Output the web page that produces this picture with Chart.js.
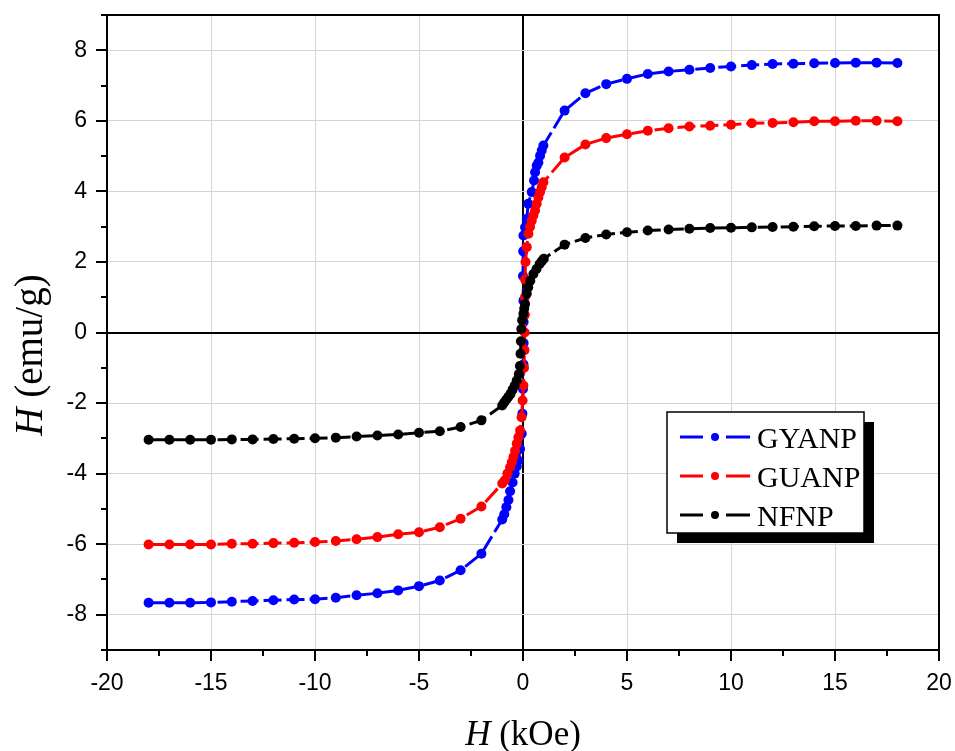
<!DOCTYPE html>
<html>
<head>
<meta charset="utf-8">
<script src="https://cdn.jsdelivr.net/npm/chart.js@4.4.0/dist/chart.umd.min.js"></script>
<style>
  html, body { margin: 0; padding: 0; background: #fff; }
  #wrap { width: 955px; height: 751px; }
</style>
</head>
<body>
<div id="wrap"><canvas id="loopChart"></canvas></div>
<script>
// field steps (kOe) on the saturated branches
const fieldNeg = [-18, -17, -16, -15, -14, -13, -12, -11, -10, -9, -8, -7, -6, -5, -4, -3, -2];
const fieldPos = [2, 3, 4, 5, 6, 7, 8, 9, 10, 11, 12, 13, 14, 15, 16, 17, 18];

// GYANP
const gyanpNeg = [-7.66, -7.66, -7.66, -7.65, -7.63, -7.61, -7.59, -7.57, -7.56, -7.52, -7.45, -7.39, -7.31, -7.19, -7.03, -6.74, -6.27];
const gyanpCoreH = [-1.0, -0.9, -0.8, -0.7, -0.62, -0.5, -0.4, -0.3, -0.22, -0.14, -0.06, -0.03, 0, 0.02, 0.03, 0.03, 0.02, 0, 0.01, 0.02, 0.1, 0.18, 0.25, 0.42, 0.53, 0.58, 0.66, 0.74, 0.82, 0.9, 0.98];
const gyanpCoreM = [-5.3, -5.15, -4.95, -4.75, -4.5, -4.25, -4.0, -3.8, -3.63, -3.3, -2.87, -2.3, -1.6, -0.9, -0.3, 0.3, 0.9, 1.6, 2.3, 2.75, 2.98, 3.22, 3.65, 3.98, 4.31, 4.54, 4.73, 4.82, 5.01, 5.16, 5.3];
const gyanpPos = [6.29, 6.78, 7.04, 7.19, 7.33, 7.40, 7.45, 7.50, 7.54, 7.58, 7.61, 7.62, 7.63, 7.64, 7.65, 7.65, 7.64];

// GUANP
const guanpNeg = [-6.01, -6.01, -6.01, -6.01, -5.99, -5.99, -5.97, -5.96, -5.94, -5.91, -5.86, -5.80, -5.72, -5.66, -5.52, -5.28, -4.93];
const guanpCoreH = [-1.0, -0.87, -0.75, -0.62, -0.54, -0.46, -0.38, -0.3, -0.22, -0.14, -0.07, -0.02, 0.02, 0.05, 0.07, 0.08, 0.09, 0.09, 0.1, 0.12, 0.18, 0.26, 0.34, 0.42, 0.5, 0.58, 0.66, 0.74, 0.82, 0.9, 0.98];
const guanpCoreM = [-4.28, -4.19, -4.0, -3.82, -3.68, -3.53, -3.35, -3.15, -2.97, -2.78, -2.4, -1.93, -1.5, -1.0, -0.5, 0, 0.5, 1.0, 1.5, 2.0, 2.42, 2.8, 3.0, 3.17, 3.32, 3.46, 3.65, 3.83, 3.98, 4.12, 4.26];
const guanpPos = [4.96, 5.33, 5.51, 5.62, 5.72, 5.79, 5.84, 5.86, 5.89, 5.93, 5.94, 5.96, 5.99, 5.99, 6.00, 6.00, 5.99];

// NFNP
const nfnpNeg = [-3.04, -3.04, -3.04, -3.04, -3.03, -3.03, -3.02, -3.01, -3.00, -2.98, -2.95, -2.92, -2.89, -2.84, -2.80, -2.68, -2.49];
const nfnpCoreH = [-1.0, -0.9, -0.8, -0.7, -0.6, -0.5, -0.4, -0.3, -0.2, -0.15, -0.12, -0.1, -0.08, -0.04, 0.02, 0.06, 0.1, 0.18, 0.25, 0.35, 0.5, 0.65, 0.8, 0.9, 1.0];
const nfnpCoreM = [-2.07, -1.98, -1.9, -1.82, -1.74, -1.62, -1.5, -1.36, -1.18, -0.95, -0.6, -0.25, 0.1, 0.35, 0.53, 0.68, 0.81, 1.1, 1.28, 1.47, 1.66, 1.8, 1.94, 2.02, 2.09];
const nfnpPos = [2.49, 2.68, 2.78, 2.84, 2.89, 2.92, 2.94, 2.96, 2.97, 2.98, 2.99, 3.00, 3.01, 3.02, 3.02, 3.03, 3.03];

const seriesNames = ["GYANP", "GUANP", "NFNP"];
const seriesColors = ["#0000ff", "#ff0000", "#000000"];

function buildLoop(negM, coreH, coreM, posM) {
  const pts = [];
  fieldNeg.forEach((h, i) => pts.push({ x: h, y: negM[i] }));
  coreH.forEach((h, i) => pts.push({ x: h, y: coreM[i] }));
  fieldPos.forEach((h, i) => pts.push({ x: h, y: posM[i] }));
  return pts;
}

function makeSet(idx, data) {
  return {
    label: seriesNames[idx],
    data: data,
    showLine: true,
    borderColor: seriesColors[idx],
    backgroundColor: seriesColors[idx],
    borderWidth: 3,
    borderDash: [18, 5],
    pointRadius: 5,
    pointHoverRadius: 5,
    pointBorderWidth: 0,
    pointBackgroundColor: seriesColors[idx],
    order: 3 - idx,
  };
}

// frame, minor ticks, axis titles and boxed legend
const decorations = {
  id: "decorations",
  afterDraw(chart) {
    const { ctx, chartArea: a, scales } = chart;
    const x = scales.x, y = scales.y;
    ctx.save();
    ctx.strokeStyle = "#000";
    ctx.lineWidth = 2;
    ctx.setLineDash([]);
    ctx.strokeRect(a.left, a.top, a.right - a.left, a.bottom - a.top);

    ctx.beginPath();
    for (let v = -20; v <= 20; v += 2.5) {
      const px = Math.round(x.getPixelForValue(v));
      const len = v % 5 === 0 ? 11 : 6;
      ctx.moveTo(px, a.bottom);
      ctx.lineTo(px, a.bottom + len);
    }
    for (let v = -9; v <= 9; v++) {
      const py = Math.round(y.getPixelForValue(v));
      const len = v % 2 === 0 ? 11 : 6;
      ctx.moveTo(a.left, py);
      ctx.lineTo(a.left - len, py);
    }
    ctx.stroke();

    // axis titles: italic H + upright unit
    ctx.fillStyle = "#000";
    ctx.textBaseline = "alphabetic";
    ctx.textAlign = "left";
    const drawTitle = (cx, cy, size, unit, rot) => {
      ctx.save();
      ctx.translate(cx, cy);
      ctx.rotate(rot);
      ctx.font = "italic " + size + "px 'Liberation Serif'";
      const w1 = ctx.measureText("H").width;
      ctx.font = size + "px 'Liberation Serif'";
      const w2 = ctx.measureText(unit).width;
      const start = -(w1 + w2) / 2;
      ctx.font = "italic " + size + "px 'Liberation Serif'";
      ctx.fillText("H", start, 0);
      ctx.font = size + "px 'Liberation Serif'";
      ctx.fillText(unit, start + w1, 0);
      ctx.restore();
    };
    drawTitle((a.left + a.right) / 2, 745, 35, " (kOe)", 0);
    drawTitle(42, 355, 39, " (emu/g)", -Math.PI / 2);

    // legend box with shadow
    const box = { left: 667, top: 412, w: 197, h: 121 };
    ctx.fillStyle = "#000";
    ctx.fillRect(box.left + 10, box.top + 10, box.w, box.h);
    ctx.fillStyle = "#fff";
    ctx.fillRect(box.left, box.top, box.w, box.h);
    ctx.lineWidth = 1.5;
    ctx.strokeStyle = "#000";
    ctx.strokeRect(box.left, box.top, box.w, box.h);
    chart.data.datasets.forEach((ds, i) => {
      const cy = box.top + 25 + i * 39;
      const x0 = box.left + 13;
      ctx.strokeStyle = ds.borderColor;
      ctx.lineWidth = 3;
      ctx.beginPath();
      ctx.moveTo(x0, cy); ctx.lineTo(x0 + 23, cy);
      ctx.moveTo(x0 + 46, cy); ctx.lineTo(x0 + 70, cy);
      ctx.stroke();
      ctx.fillStyle = ds.borderColor;
      ctx.beginPath();
      ctx.arc(x0 + 35, cy, 4, 0, Math.PI * 2);
      ctx.fill();
      ctx.fillStyle = "#000";
      ctx.font = "30px 'Liberation Serif'";
      ctx.fillText(ds.label, box.left + 90, cy + 11);
    });
    ctx.restore();
  },
};

const ctx = document.getElementById("loopChart").getContext("2d");
const loopChart = new Chart(ctx, {
  type: "scatter",
  data: {
    datasets: [
      makeSet(0, buildLoop(gyanpNeg, gyanpCoreH, gyanpCoreM, gyanpPos)),
      makeSet(1, buildLoop(guanpNeg, guanpCoreH, guanpCoreM, guanpPos)),
      makeSet(2, buildLoop(nfnpNeg, nfnpCoreH, nfnpCoreM, nfnpPos)),
    ],
  },
  options: {
    responsive: true,
    maintainAspectRatio: false,
    animation: false,
    layout: { padding: { top: 15, right: 16, left: 0, bottom: 0 } },
    plugins: {
      legend: { display: false },
      tooltip: { enabled: false },
    },
    scales: {
      x: {
        type: "linear",
        min: -20,
        max: 20,
        afterFit: (scale) => {
          scale.height = 101;
          scale.paddingLeft = 0;
          scale.paddingRight = 0;
        },
        ticks: {
          stepSize: 5,
          padding: 20,
          color: "#000",
          font: { family: "'Liberation Sans'", size: 23 },
        },
        border: { display: false },
        grid: {
          drawTicks: false,
          lineWidth: (c) => (c.tick && c.tick.value === 0 ? 2 : 1),
          color: (c) => (c.tick && c.tick.value === 0 ? "#000" : "#d4d4d4"),
        },
      },
      y: {
        min: -9,
        max: 9,
        afterFit: (scale) => {
          scale.width = 107;
          scale.paddingTop = 0;
          scale.paddingBottom = 0;
        },
        ticks: {
          stepSize: 1,
          padding: 20,
          color: "#000",
          font: { family: "'Liberation Sans'", size: 23 },
          callback: (v) => (v % 2 === 0 ? v : ""),
        },
        border: { display: false },
        grid: {
          drawTicks: false,
          lineWidth: (c) => (c.tick && c.tick.value === 0 ? 2 : 1),
          color: (c) => {
            if (!c.tick) return "#d4d4d4";
            if (c.tick.value === 0) return "#000";
            return c.tick.value % 2 === 0 ? "#d4d4d4" : "rgba(0,0,0,0)";
          },
        },
      },
    },
  },
  plugins: [decorations],
});
</script>
</body>
</html>
